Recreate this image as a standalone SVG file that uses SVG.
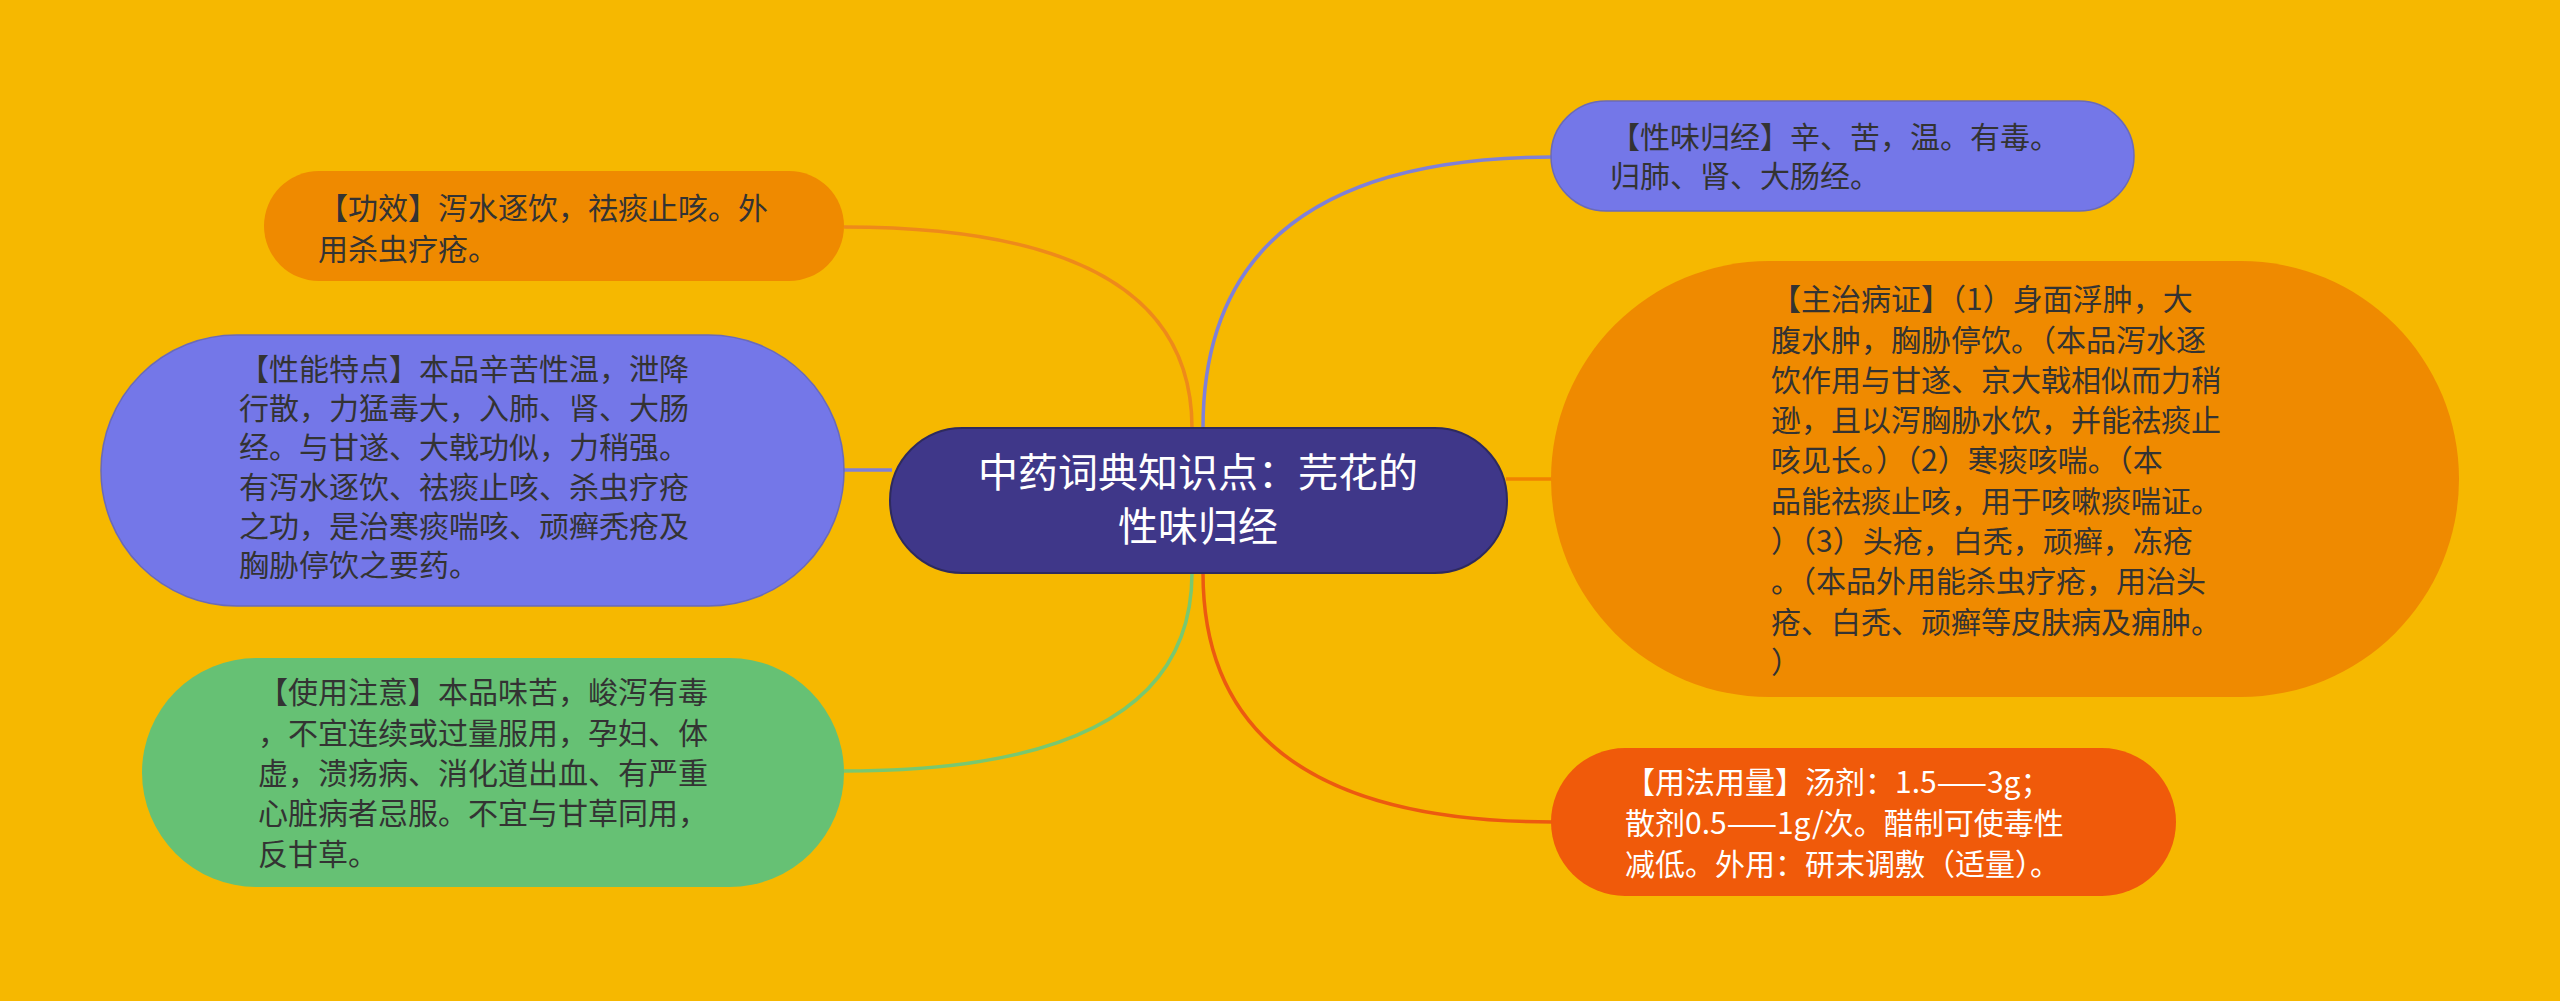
<svg xmlns="http://www.w3.org/2000/svg" width="2560" height="1001" viewBox="0 0 2560 1001">
<style>
.t{font-family:"Noto Sans CJK SC","Noto Sans",sans-serif;font-size:30px;fill:#333333}
.w{fill:#ffffff}
.c{font-family:"Noto Sans CJK SC","Noto Sans",sans-serif;font-size:40px;fill:#ffffff;text-anchor:middle}
.ln{fill:none;stroke-width:3.5}
</style>
<rect x="0" y="0" width="2560" height="1001" fill="#F6B800"/>
<g id="connectors">
<path class="ln" stroke="#EE8A1A" d="M844,227 Q1192,227 1192,428"/>
<path class="ln" stroke="#7F80D8" d="M844,470 L892,470"/>
<path class="ln" stroke="#78C870" d="M844,771 Q1192,771 1192,573"/>
<path class="ln" stroke="#7F80D8" d="M1203,428 Q1203,157 1553,157"/>
<path class="ln" stroke="#F08300" d="M1506,479 L1553,479"/>
<path class="ln" stroke="#EC5A10" d="M1203,573 Q1203,822 1553,822"/>
</g>
<g id="center">
<rect x="890" y="428" width="617" height="145" rx="72.5" fill="#3F3789" stroke="#2E2A5E" stroke-width="2"/>
<text class="c"><tspan x="1198" y="487">中药词典知识点：芫花的</tspan><tspan x="1198" y="541">性味归经</tspan></text>
</g>
<g id="gongxiao">
<rect x="264" y="171" width="580" height="110" rx="55" fill="#EF8A00"/>
<text class="t"><tspan x="318" y="219">【功效】泻水逐饮，祛痰止咳。外</tspan><tspan x="318" y="260">用杀虫疗疮。</tspan></text>
</g>
<g id="xingneng">
<rect x="101" y="335" width="743" height="271" rx="135.5" fill="#7477E8" stroke="#6A6AB8" stroke-width="1.5"/>
<text class="t"><tspan x="239" y="380">【性能特点】本品辛苦性温，泄降</tspan><tspan x="239" y="419">行散，力猛毒大，入肺、肾、大肠</tspan><tspan x="239" y="458">经。与甘遂、大戟功似，力稍强。</tspan><tspan x="239" y="498">有泻水逐饮、祛痰止咳、杀虫疗疮</tspan><tspan x="239" y="537">之功，是治寒痰喘咳、顽癣秃疮及</tspan><tspan x="239" y="576">胸胁停饮之要药。</tspan></text>
</g>
<g id="zhuyi">
<rect x="142" y="658" width="702" height="229" rx="114.5" fill="#66C174"/>
<text class="t"><tspan x="258" y="703">【使用注意】本品味苦，峻泻有毒</tspan><tspan x="258" y="744">，不宜连续或过量服用，孕妇、体</tspan><tspan x="258" y="784">虚，溃疡病、消化道出血、有严重</tspan><tspan x="258" y="824">心脏病者忌服。不宜与甘草同用，</tspan><tspan x="258" y="865">反甘草。</tspan></text>
</g>
<g id="xingwei">
<rect x="1551" y="101" width="583" height="110" rx="55" fill="#7477E8" stroke="#6A6AB8" stroke-width="1.5"/>
<text class="t"><tspan x="1610" y="148">【性味归经】辛、苦，温。有毒。</tspan><tspan x="1610" y="187">归肺、肾、大肠经。</tspan></text>
</g>
<g id="zhuzhi">
<rect x="1551" y="261" width="908" height="436" rx="218" fill="#EF8A00"/>
<text class="t"><tspan x="1771" y="310">【主治病证】（1）身面浮肿，大</tspan><tspan x="1771" y="351">腹水肿，胸胁停饮。（本品泻水逐</tspan><tspan x="1771" y="391">饮作用与甘遂、京大戟相似而力稍</tspan><tspan x="1771" y="431">逊，且以泻胸胁水饮，并能祛痰止</tspan><tspan x="1771" y="471">咳见长。）（2）寒痰咳喘。（本</tspan><tspan x="1771" y="512">品能祛痰止咳，用于咳嗽痰喘证。</tspan><tspan x="1771" y="552">）（3）头疮，白秃，顽癣，冻疮</tspan><tspan x="1771" y="592">。（本品外用能杀虫疗疮，用治头</tspan><tspan x="1771" y="633">疮、白秃、顽癣等皮肤病及痈肿。</tspan><tspan x="1771" y="673">）</tspan></text>
</g>
<g id="yongfa">
<rect x="1551" y="748" width="625" height="148" rx="74" fill="#F05A0A"/>
<text class="t w"><tspan x="1625" y="793">【用法用量】汤剂：1.5——3g；</tspan><tspan x="1625" y="834">散剂0.5——1g/次。醋制可使毒性</tspan><tspan x="1625" y="875">减低。外用：研末调敷（适量）。</tspan></text>
</g>
</svg>
